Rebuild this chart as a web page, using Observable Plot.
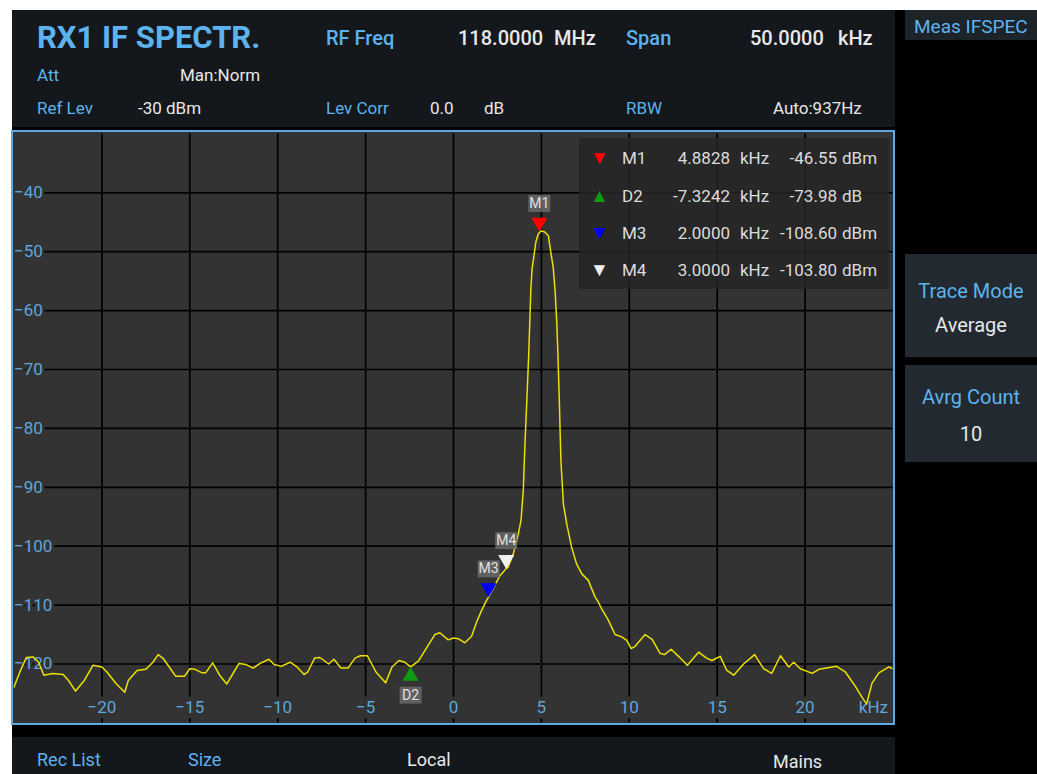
<!DOCTYPE html>
<html><head><meta charset="utf-8">
<script src="https://cdn.jsdelivr.net/npm/d3@7"></script>
<script src="https://cdn.jsdelivr.net/npm/@observablehq/plot@0.6"></script>
<style>
body{margin:0;background:#fff;width:1037px;height:774px;overflow:hidden;position:relative;font-family:Roboto,"Liberation Sans",sans-serif;}
.abs{position:absolute;white-space:nowrap;line-height:1;transform:translateY(-50%);}
.box{position:absolute;}
.b{color:#5db3ee}
.w{color:#e8e8e8}
#plotwrap{position:absolute;left:11px;top:130px;width:884px;height:595px;}
#frame{position:absolute;left:11px;top:130px;width:884px;height:595px;box-sizing:border-box;border:2px solid #5fa7dc;pointer-events:none;}
#mtab{position:absolute;left:579px;top:138px;width:310px;height:151px;background:rgba(36,36,36,0.82);color:#dcdcdc;font-size:17px;}
#mtab .r{position:absolute;left:0;width:310px;height:20px;}
#mtab span{position:absolute;top:0;line-height:20px;white-space:nowrap;}
</style></head>
<body>
<div id="screen" class="box" style="left:12px;top:10px;width:1025px;height:764px;background:#000"></div>
<div class="box" style="left:12px;top:10px;width:883px;height:117px;background:#14181c"></div>
<div class="box" style="left:905px;top:10px;width:132px;height:30px;background:#1c2329"></div>
<div class="box" style="left:905px;top:254px;width:132px;height:103px;background:#222930"></div>
<div class="box" style="left:905px;top:365px;width:132px;height:97px;background:#222930"></div>
<div class="box" style="left:12px;top:737px;width:883px;height:37px;background:#14181c"></div>

<div class="abs b" style="left:37px;top:37px;font-size:31px;font-weight:700">RX1 IF SPECTR.</div>
<div class="abs b" style="left:326px;top:38px;font-size:20px;font-weight:500">RF Freq</div>
<div class="abs w" style="left:458px;top:38px;font-size:20px;font-weight:500">118.0000</div>
<div class="abs w" style="left:554px;top:38px;font-size:20px;font-weight:500">MHz</div>
<div class="abs b" style="left:626px;top:38px;font-size:20px;font-weight:500">Span</div>
<div class="abs w" style="left:750px;top:38px;font-size:20px;font-weight:500">50.0000</div>
<div class="abs w" style="left:838px;top:38px;font-size:20px;font-weight:500">kHz</div>
<div class="abs b" style="left:37px;top:75px;font-size:17px">Att</div>
<div class="abs w" style="left:180px;top:75px;font-size:17px">Man:Norm</div>
<div class="abs b" style="left:37px;top:108px;font-size:17px">Ref Lev</div>
<div class="abs w" style="left:138px;top:108px;font-size:17px">-30 dBm</div>
<div class="abs b" style="left:326px;top:108px;font-size:17px">Lev Corr</div>
<div class="abs w" style="left:430px;top:108px;font-size:17px">0.0</div>
<div class="abs w" style="left:484px;top:108px;font-size:17px">dB</div>
<div class="abs b" style="left:626px;top:108px;font-size:17px">RBW</div>
<div class="abs w" style="left:773px;top:108px;font-size:17px">Auto:937Hz</div>

<div class="abs b" style="left:914px;top:26px;font-size:19px">Meas IFSPEC</div>
<div class="abs b" style="left:905px;width:132px;text-align:center;top:291px;font-size:20px">Trace Mode</div>
<div class="abs w" style="left:905px;width:132px;text-align:center;top:325px;font-size:20px">Average</div>
<div class="abs b" style="left:905px;width:132px;text-align:center;top:397px;font-size:20px">Avrg Count</div>
<div class="abs w" style="left:905px;width:132px;text-align:center;top:434px;font-size:20px">10</div>

<div class="abs b" style="left:37px;top:760px;font-size:18px">Rec List</div>
<div class="abs b" style="left:188px;top:760px;font-size:18px">Size</div>
<div class="abs w" style="left:407px;top:760px;font-size:18px">Local</div>
<div class="abs w" style="left:773px;top:762px;font-size:18px">Mains</div>

<div id="plotwrap"></div>
<div id="mtab"></div>
<div id="frame"></div>

<script>
// ---- trace data (frequency offset in kHz, level in dBm) ----
const freqKHz = [-25.0,-24.7,-24.3,-23.9,-23.6,-23.3,-22.8,-22.2,-21.9,-21.5,-21.0,-20.5,-20.0,-19.7,-19.2,-18.7,-18.5,-18.0,-17.5,-17.1,-16.8,-16.5,-16.1,-15.8,-15.3,-15.0,-14.7,-14.3,-14.1,-13.7,-13.3,-12.9,-12.5,-12.2,-11.8,-11.4,-11.0,-10.5,-10.2,-9.8,-9.3,-8.9,-8.5,-8.3,-7.9,-7.6,-7.1,-6.8,-6.4,-6.0,-5.6,-5.3,-4.9,-4.4,-3.86,-3.5,-3.1,-2.77,-2.44,-2.0,-1.54,-1.06,-0.78,-0.3,0.0,0.27,0.65,1.03,1.31,1.6,1.88,2.0,2.35,2.64,3.0,3.1,3.4,3.69,3.84,3.97,4.06,4.16,4.27,4.34,4.4,4.47,4.59,4.68,4.82,4.97,5.17,5.4,5.55,5.67,5.78,5.88,5.94,6.03,6.06,6.11,6.25,6.44,6.72,7.0,7.3,7.67,7.86,8.05,8.24,8.4,8.8,9.19,9.57,9.86,10.1,10.33,10.9,11.3,11.75,12.0,12.38,12.8,13.3,13.94,14.4,14.7,15.17,15.55,15.94,16.5,17.13,17.64,18.1,18.6,19.07,19.35,19.73,20.4,20.78,21.8,22.3,22.86,23.25,23.5,23.8,24.2,24.77,25.0];
const levelDbm = [-123.9,-121.6,-118.9,-118.8,-119.7,-121.9,-121.6,-121.8,-122.8,-124.6,-122.8,-120.2,-120.5,-121.4,-123.3,-124.8,-122.8,-121.1,-120.9,-119.7,-118.4,-119.1,-120.8,-122.1,-122.1,-120.8,-120.9,-121.5,-121.5,-119.8,-121.9,-123.4,-121.4,-119.9,-120.1,-120.7,-119.9,-119.2,-120.1,-120.4,-119.7,-120.5,-121.8,-121.4,-119.0,-118.9,-120.0,-119.2,-120.7,-120.7,-119.0,-118.6,-118.6,-121.4,-123.2,-120.5,-119.4,-119.7,-120.5,-119.5,-117.3,-115.0,-114.7,-115.9,-115.6,-115.7,-116.4,-115.3,-112.9,-110.9,-109.2,-108.6,-106.7,-105.0,-103.8,-103.6,-101.3,-97.9,-95.6,-90.6,-83.0,-76.0,-68.1,-61.9,-56.3,-52.9,-50.4,-48.4,-47.0,-46.5,-46.6,-47.3,-50.4,-52.6,-56.6,-62.3,-67.4,-76.4,-80.0,-85.5,-92.8,-96.2,-100.2,-103.0,-104.7,-105.8,-107.2,-108.6,-109.5,-110.5,-112.5,-115.0,-115.4,-116.0,-117.4,-117.0,-115.0,-115.8,-118.2,-118.4,-117.5,-118.7,-120.2,-118.0,-119.0,-119.4,-118.7,-121.1,-121.9,-120.0,-118.4,-120.8,-121.6,-118.6,-120.5,-119.7,-120.8,-121.6,-120.9,-120.4,-121.4,-123.8,-125.7,-126.8,-123.3,-121.5,-120.5,-120.8];

// ---- markers ----
const markerNames = ["M1", "D2", "M3", "M4"];
const markerFreq = [4.8828, -2.4414, 2.0, 3.0];
const markerLevel = [-46.55, -120.53, -108.60, -103.80];
const markerColor = ["#ff0000", "#109a10", "#0000ff", "#f0f0f0"];
const markerUp = [false, true, false, false];
const tableFreq = ["4.8828", "-7.3242", "2.0000", "3.0000"];
const tableLevel = ["-46.55", "-73.98", "-108.60", "-103.80"];
const tableUnit = ["dBm", "dB", "dBm", "dBm"];

// ---- axes ----
const xTicks = [-20, -15, -10, -5, 0, 5, 10, 15, 20];
const yTicks = [-40, -50, -60, -70, -80, -90, -100, -110, -120];
const xUnit = "kHz";

const trace = freqKHz.map((f, i) => ({f, l: levelDbm[i]}));
const markers = markerNames.map((n, i) => ({n, f: markerFreq[i], l: markerLevel[i], c: markerColor[i], up: markerUp[i]}));
const downM = markers.filter(d => !d.up);
const upM = markers.filter(d => d.up);
const labelBox = {draw(ctx) { ctx.rect(-11, -8.5, 22, 17); }};

const font = "Roboto, 'Liberation Sans', sans-serif";
const chart = Plot.plot({
  width: 884, height: 595,
  marginLeft: 2.5, marginRight: 2.5, marginTop: 3.4, marginBottom: 2.6,
  style: {background: "#333333", fontFamily: font, overflow: "visible"},
  x: {domain: [-25, 25], axis: null, label: null},
  y: {domain: [-130, -30], axis: null, label: null},
  color: {type: "identity"},
  marks: [
    Plot.ruleY(yTicks, {stroke: "#000", strokeWidth: 1.7}),
    Plot.ruleX(xTicks, {y1: -125.6, y2: -30, stroke: "#000", strokeWidth: 1.7}),
    Plot.ruleX(xTicks, {y1: -130, y2: -129.3, stroke: "#000", strokeWidth: 1.7}),
    Plot.axisY(yTicks, {anchor: "left", label: null, tickSize: 0, textAnchor: "start", dx: 9, color: "#5ea6dc", fontSize: 17, textStroke: "#333333", textStrokeWidth: 5}),
    Plot.axisX(xTicks, {anchor: "bottom", label: null, tickSize: 0, dy: -31, color: "#5ea6dc", fontSize: 17}),
    Plot.text([xUnit], {text: d => d, frameAnchor: "bottom-right", textAnchor: "end", lineAnchor: "bottom", dx: -5, dy: -10, fill: "#5ea6dc", fontSize: 17}),
    Plot.line(trace, {x: "f", y: "l", stroke: "#ece000", strokeWidth: 1.5, clip: true}),
    Plot.dot(downM, {x: "f", y: "l", symbol: "triangle", r: 6, rotate: 180, fill: "c", stroke: null, dy: -9}),
    Plot.dot(upM, {x: "f", y: "l", symbol: "triangle", r: 6, fill: "c", stroke: null, dy: 9}),
    Plot.dot(downM, {x: "f", y: "l", symbol: labelBox, r: 5, fill: "#6a6a6a", fillOpacity: 0.85, stroke: null, dy: -28}),
    Plot.dot(upM, {x: "f", y: "l", symbol: labelBox, r: 5, fill: "#6a6a6a", fillOpacity: 0.85, stroke: null, dy: 28}),
    Plot.text(downM, {x: "f", y: "l", text: "n", fill: "#e0e0e0", fontSize: 14, dy: -28}),
    Plot.text(upM, {x: "f", y: "l", text: "n", fill: "#e0e0e0", fontSize: 14, dy: 28})
  ]
});
document.getElementById("plotwrap").appendChild(chart);

// marker table
const tab = document.getElementById("mtab");
const rowTop = [10, 48, 85, 122];
markers.forEach((m, i) => {
  const r = document.createElement("div");
  r.className = "r";
  r.style.top = rowTop[i] + "px";
  const tri = m.up ? "▲" : "▼";
  r.innerHTML =
    `<span style="left:11px;color:${m.c};font-size:19px">${tri}</span>` +
    `<span style="left:43px">${m.n}</span>` +
    `<span style="right:${310 - 151}px;text-align:right">${tableFreq[i]}</span>` +
    `<span style="left:161px">kHz</span>` +
    `<span style="right:${310 - 258}px;text-align:right">${tableLevel[i]}</span>` +
    `<span style="left:263px">${tableUnit[i]}</span>`;
  tab.appendChild(r);
});
</script>
</body></html>
